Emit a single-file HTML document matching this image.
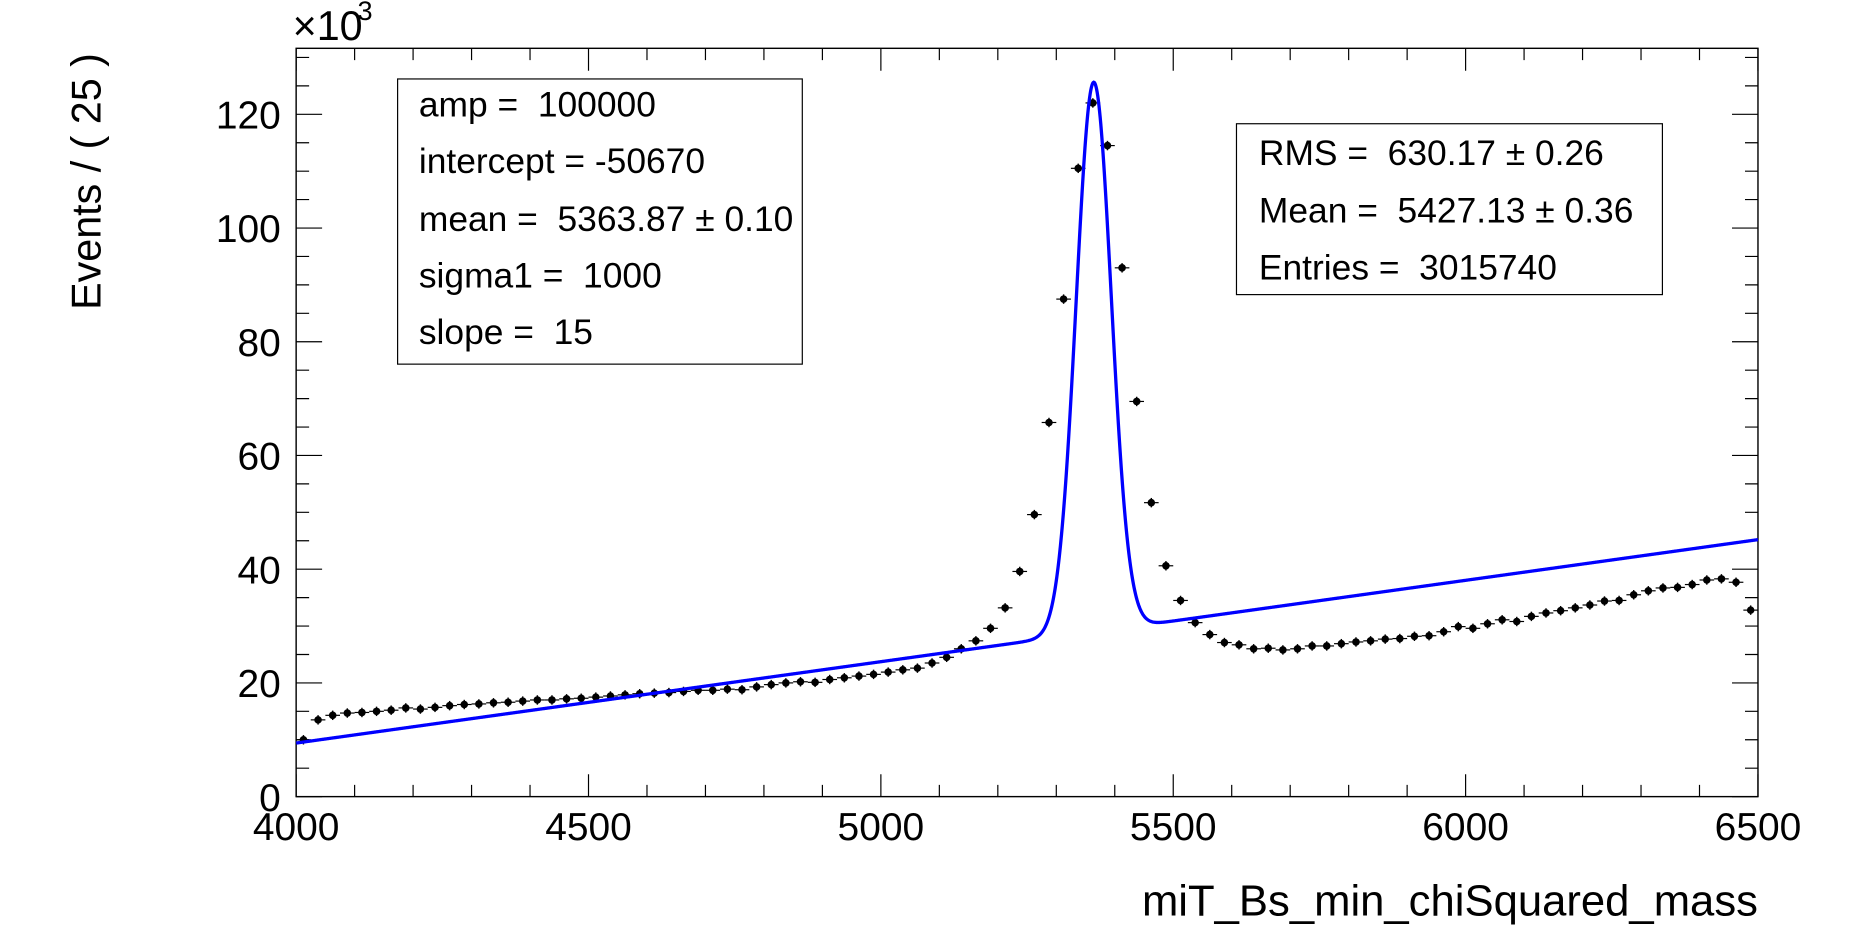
<!DOCTYPE html>
<html><head><meta charset="utf-8"><style>
html,body{margin:0;padding:0;background:#fff;}
svg{display:block;}
text{font-family:"Liberation Sans",Arial,sans-serif;fill:#000;white-space:pre;}
</style></head><body>
<svg id="s" width="1850" height="951" viewBox="0 0 1568 807" preserveAspectRatio="none" xmlns="http://www.w3.org/2000/svg">
<rect x="0" y="0" width="1568" height="807" fill="#fff"/>
<g id="ticks" stroke="#000" stroke-width="1" fill="none"></g>
<rect x="251" y="41" width="1239" height="635" fill="none" stroke="#000" stroke-width="1.2"/>
<g id="pts"></g>
<polyline id="curve" fill="none" stroke="#0000ff" stroke-width="2.8" points=""/>
<g font-size="33" text-anchor="end" id="ylab"></g>
<g font-size="33" text-anchor="middle" id="xlab"></g>
<text x="248" y="34" font-size="35">×10</text>
<text x="303" y="17" font-size="23">3</text>
<text transform="translate(85,154) rotate(-90)" font-size="35" text-anchor="middle">Events / ( 25 )</text>
<text x="1490" y="777" font-size="37" text-anchor="end">miT_Bs_min_chiSquared_mass</text>
<rect x="337" y="67" width="343" height="242" fill="#fff" stroke="#000" stroke-width="1"/>
<g font-size="30">
<text x="355" y="99">amp =  100000</text>
<text x="355" y="147">intercept = -50670</text>
<text x="355" y="196">mean =  5363.87 ± 0.10</text>
<text x="355" y="244">sigma1 =  1000</text>
<text x="355" y="292">slope =  15</text>
</g>
<rect x="1048" y="105" width="361" height="145" fill="#fff" stroke="#000" stroke-width="1"/>
<g font-size="30">
<text x="1067" y="140">RMS =  630.17 ± 0.26</text>
<text x="1067" y="189">Mean =  5427.13 ± 0.36</text>
<text x="1067" y="237">Entries =  3015740</text>
</g>
</svg>
<script>
(function(){
var NS="http://www.w3.org/2000/svg";
function X(x){return 251+(x-4000)*0.4956;}
function Y(v){return 676-v*4.825;}
var t=document.getElementById('ticks'),d="";
for(var v=0;v<=130;v+=5){var y=Y(v),L=(v%20==0)?22:11;d+="M251 "+y+"h"+L+"M1490 "+y+"h"+(-L);}
for(var x=4000;x<=6500;x+=100){var xx=X(x),L=(x%500==0)?19:10;d+="M"+xx+" 676v"+(-L)+"M"+xx+" 41v"+L;}
var p=document.createElementNS(NS,'path');p.setAttribute('d',d);t.appendChild(p);
var yl=document.getElementById('ylab');
for(var v=0;v<=120;v+=20){var e=document.createElementNS(NS,'text');e.setAttribute('x',238);e.setAttribute('y',Y(v)+12);e.textContent=v;yl.appendChild(e);}
var xl=document.getElementById('xlab');
for(var x=4000;x<=6500;x+=500){var e=document.createElementNS(NS,'text');e.setAttribute('x',X(x));e.setAttribute('y',713);e.textContent=x;xl.appendChild(e);}
var vals=[10,13.5,14.3,14.7,14.8,15,15.2,15.6,15.4,15.7,16,16.2,16.3,16.5,16.6,16.8,17,17,17.2,17.3,17.5,17.7,17.9,18.1,18.2,18.3,18.5,18.7,18.7,18.9,18.8,19.3,19.7,20,20.2,20.1,20.6,20.9,21.2,21.5,21.9,
22.3,22.6,23.5,24.5,26.0,27.4,29.6,33.2,39.6,49.6,65.8,87.5,110.5,122,114.5,93,69.5,
51.7,40.6,34.5,30.6,28.5,27.1,26.7,26.0,26.1,25.8,26.0,26.5,26.5,26.9,27.2,27.4,27.7,27.8,28.2,28.3,29.0,29.9,29.6,30.4,31.1,30.8,31.7,32.3,32.7,33.2,33.7,34.4,34.5,35.5,36.2,36.7,36.8,37.3,38.1,38.3,37.7,32.8];
var g=document.getElementById('pts'),s="";
for(var i=0;i<vals.length;i++){var cx=X(4012.5+25*i),cy=Y(vals[i]);
s+='<line x1="'+(cx-6.2)+'" y1="'+cy+'" x2="'+(cx+6.2)+'" y2="'+cy+'" stroke="#000" stroke-width="1"/>';
s+='<line x1="'+cx+'" y1="'+(cy-4)+'" x2="'+cx+'" y2="'+(cy+4)+'" stroke="#000" stroke-width="1.2"/>';
s+='<circle cx="'+cx+'" cy="'+cy+'" r="3.2" fill="#000"/>';}
g.innerHTML=s;
var pts=[];
for(var x=4000;x<=6500;x+=1){var lin=30.6+0.01431*(x-5480);var dd=(x-5364)/30;var v=lin+96.7*Math.exp(-0.5*dd*dd);pts.push(X(x).toFixed(2)+","+Y(v).toFixed(2));}
document.getElementById('curve').setAttribute('points',pts.join(' '));
})();
</script>
</body></html>
